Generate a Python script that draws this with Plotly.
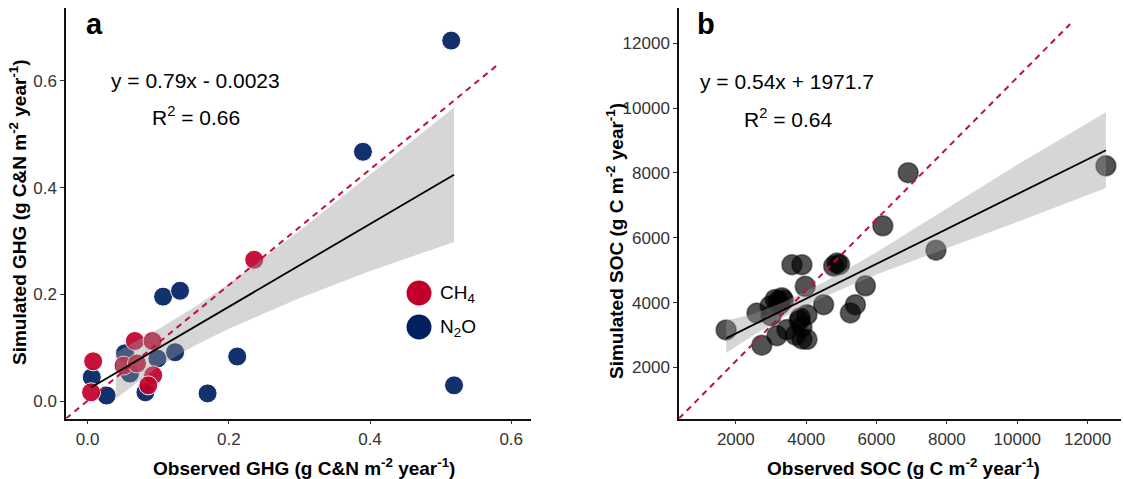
import plotly.graph_objects as go

# ---------------- Panel a data (GHG) ----------------
ch4_obs = [0.008, 0.005, 0.067, 0.092, 0.051, 0.070, 0.093, 0.086, 0.236]
ch4_sim = [0.075, 0.017, 0.113, 0.113, 0.067, 0.071, 0.049, 0.030, 0.265]
n2o_obs = [0.006, 0.027, 0.053, 0.060, 0.099, 0.124, 0.082, 0.170, 0.107, 0.131, 0.212, 0.390, 0.519, 0.515]
n2o_sim = [0.045, 0.011, 0.090, 0.052, 0.080, 0.092, 0.017, 0.015, 0.196, 0.207, 0.084, 0.467, 0.030, 0.675]

fit_a_x = [0.005, 0.519]
fit_a_y = [0.026, 0.424]
band_a_x = [0.04, 0.10, 0.15, 0.20, 0.30, 0.40, 0.519]
band_a_lo = [0.005, 0.065, 0.103, 0.136, 0.193, 0.244, 0.298]
band_a_hi = [0.092, 0.135, 0.175, 0.220, 0.319, 0.424, 0.550]
ref_a_x = [-0.0305, 0.581]
ref_a_y = [-0.032, 0.630]

# ---------------- Panel b data (SOC) ----------------
soc_obs = [1724, 2741, 2600, 2977, 3120, 3200, 3310, 3356, 3250, 3453, 3168, 3595, 3880,
           3974, 3832, 4023, 3880, 3880, 4023, 3700, 4496, 4781, 4877, 4950, 5684, 5399,
           5256, 6180, 6900, 7690, 12521, 3000, 3800]
soc_sim = [3160, 2690, 3680, 3900, 4100, 4050, 4150, 4080, 3950, 3170, 2980, 5171, 5171,
           4503, 3529, 3631, 3250, 2880, 2870, 3000, 3939, 5130, 5223, 5180, 4520, 3939,
           3683, 6370, 8010, 5620, 8222, 3600, 3450]

fit_b_x = [1724, 12521]
fit_b_y = [2900, 8700]
band_b_x = [1724, 2500, 3350, 4500, 6000, 8000, 10000, 12521]
band_b_lo = [2450, 2992, 3546, 4172, 4872, 5692, 6492, 7540]
band_b_hi = [3450, 3652, 4016, 4632, 5552, 6892, 8252, 9870]
ref_b_x = [385, 11504]
ref_b_y = [428, 12593]

RED = "#C3002B"
BLUE = "#002060"
FONT = "Liberation Sans, Arial, sans-serif"
W, H = 1124, 479

fig = go.Figure()

# panel a points
fig.add_trace(go.Scatter(x=n2o_obs, y=n2o_sim, mode="markers", xaxis="x", yaxis="y",
                         marker=dict(size=19, color=BLUE, opacity=0.92,
                                     line=dict(color="white", width=1)),
                         showlegend=False))
fig.add_trace(go.Scatter(x=ch4_obs, y=ch4_sim, mode="markers", xaxis="x", yaxis="y",
                         marker=dict(size=19, color=RED, opacity=0.92,
                                     line=dict(color="white", width=1)),
                         showlegend=False))
# panel a band
fig.add_trace(go.Scatter(x=band_a_x + band_a_x[::-1], y=band_a_hi + band_a_lo[::-1],
                         fill="toself", fillcolor="rgba(153,153,153,0.4)",
                         line=dict(width=0), mode="lines", xaxis="x", yaxis="y",
                         hoverinfo="skip", showlegend=False))
fig.add_trace(go.Scatter(x=ref_a_x, y=ref_a_y, mode="lines", xaxis="x", yaxis="y",
                         line=dict(color="#C0103F", width=2, dash="6px,5px"),
                         showlegend=False))
fig.add_trace(go.Scatter(x=fit_a_x, y=fit_a_y, mode="lines", xaxis="x", yaxis="y",
                         line=dict(color="black", width=1.8), showlegend=False))

# panel b points
fig.add_trace(go.Scatter(x=soc_obs, y=soc_sim, mode="markers", xaxis="x2", yaxis="y2",
                         marker=dict(size=20, color="rgba(0,0,0,0.68)",
                                     line=dict(color="rgba(0,0,0,0.45)", width=1.5)),
                         showlegend=False))
fig.add_trace(go.Scatter(x=band_b_x + band_b_x[::-1], y=band_b_hi + band_b_lo[::-1],
                         fill="toself", fillcolor="rgba(153,153,153,0.4)",
                         line=dict(width=0), mode="lines", xaxis="x2", yaxis="y2",
                         hoverinfo="skip", showlegend=False))
fig.add_trace(go.Scatter(x=ref_b_x, y=ref_b_y, mode="lines", xaxis="x2", yaxis="y2",
                         line=dict(color="#C0103F", width=2, dash="6px,5px"),
                         showlegend=False))
fig.add_trace(go.Scatter(x=fit_b_x, y=fit_b_y, mode="lines", xaxis="x2", yaxis="y2",
                         line=dict(color="black", width=1.8), showlegend=False))

ydom = [1 - 418.5 / H, 1 - 8 / H]
axis_common = dict(showgrid=False, zeroline=False, showline=True, linecolor="#111",
                   linewidth=1.5, ticks="outside", ticklen=4, tickwidth=1.2,
                   tickcolor="#333", tickfont=dict(family=FONT, size=17, color="#333"))

fig.update_layout(
    width=W, height=H,
    margin=dict(l=0, r=0, t=0, b=0),
    paper_bgcolor="white", plot_bgcolor="white",
    showlegend=False,
    xaxis=dict(domain=[66 / W, 531 / W], range=[-0.0305, 0.628],
               tickvals=[0.0, 0.2, 0.4, 0.6], ticktext=["0.0", "0.2", "0.4", "0.6"],
               anchor="y", **axis_common),
    yaxis=dict(domain=ydom, range=[-0.032, 0.736],
               tickvals=[0.0, 0.2, 0.4, 0.6], ticktext=["0.0", "0.2", "0.4", "0.6"],
               anchor="x", **axis_common),
    xaxis2=dict(domain=[679 / W, 1121 / W], range=[385, 12950],
                tickvals=[2000, 4000, 6000, 8000, 10000, 12000],
                ticktext=["2000", "4000", "6000", "8000", "10000", "12000"],
                anchor="y2", **axis_common),
    yaxis2=dict(domain=ydom, range=[428, 13088],
                tickvals=[2000, 4000, 6000, 8000, 10000, 12000],
                ticktext=["2000", "4000", "6000", "8000", "10000", "12000"],
                anchor="x2", **axis_common),
)


def px(xp, yp):
    return xp / W, 1 - yp / H


annots = []


def add_text(text, xp, yp, size, bold=False, angle=0, xanchor="center"):
    x, y = px(xp, yp)
    annots.append(dict(text=("<b>%s</b>" % text) if bold else text, x=x, y=y,
                       xref="paper", yref="paper", showarrow=False,
                       xanchor=xanchor, yanchor="middle", textangle=angle,
                       font=dict(family=FONT, size=size, color="black")))


add_text("a", 94, 24, 29, bold=True)
add_text("b", 706, 24, 29, bold=True)
add_text("y = 0.79x - 0.0023", 195, 80, 21)
add_text("R<sup>2</sup> = 0.66", 196, 116, 21)
add_text("y = 0.54x + 1971.7", 787, 82, 21)
add_text("R<sup>2</sup> = 0.64", 788, 118, 21)
add_text("Observed GHG (g C&N m<sup>-2</sup> year<sup>-1</sup>)", 304, 467, 19, bold=True)
add_text("Observed SOC (g C m<sup>-2</sup> year<sup>-1</sup>)", 903, 467, 19, bold=True)
add_text("Simulated GHG (g C&N m<sup>-2</sup> year<sup>-1</sup>)", 18, 212, 19, bold=True, angle=-90)
add_text("Simulated SOC (g C m<sup>-2</sup> year<sup>-1</sup>)", 615, 241, 19, bold=True, angle=-90)
add_text("CH<sub>4</sub>", 438, 294, 19, xanchor="left")
add_text("N<sub>2</sub>O", 438, 328, 19, xanchor="left")

shapes = []
for (cx, cy, col) in [(419, 293, RED), (419, 327, BLUE)]:
    r = 12.5
    shapes.append(dict(type="circle", xref="paper", yref="paper",
                       x0=(cx - r) / W, x1=(cx + r) / W,
                       y0=1 - (cy + r) / H, y1=1 - (cy - r) / H,
                       fillcolor=col, line=dict(width=0)))

fig.update_layout(annotations=annots, shapes=shapes)
fig.write_html("out.html")
